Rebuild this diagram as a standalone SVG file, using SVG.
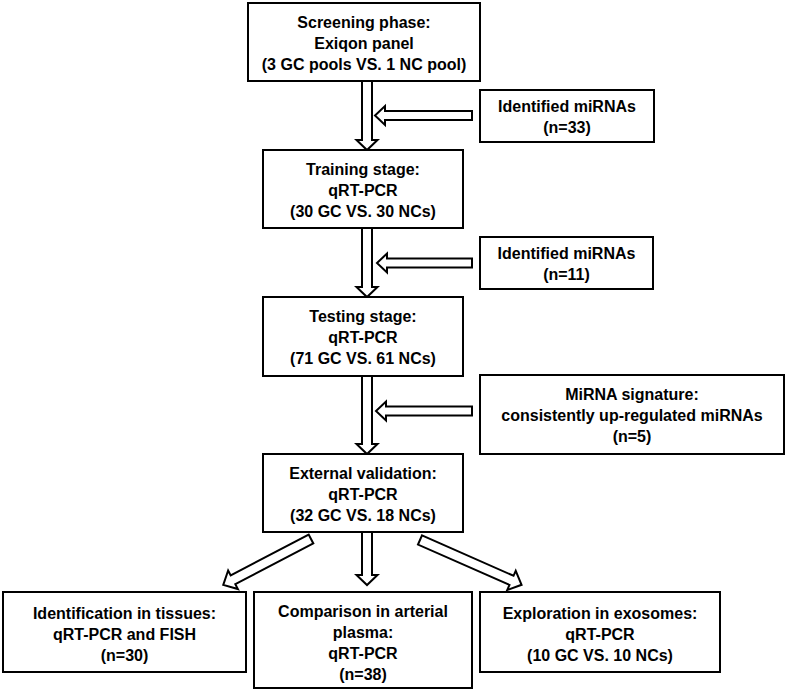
<svg xmlns="http://www.w3.org/2000/svg" width="787" height="691" viewBox="0 0 787 691">
<style>
.box{fill:#fff;stroke:#000;stroke-width:2}
.arr{fill:#fff;stroke:#000;stroke-width:2;stroke-linejoin:miter}
text{font-family:"Liberation Sans",Arial,sans-serif;font-weight:bold;font-size:16px;text-anchor:middle;fill:#000}
</style>
<defs>
<polygon id="a99" points="0,-5 88,-5 88,-10.5 99,0 88,10.5 88,5 0,5"/>
<polygon id="a111" points="0,-5 100,-5 100,-10.5 111,0 100,10.5 100,5 0,5"/>
</defs>
<rect width="787" height="691" fill="#fff"/>
<g id="connectors">
<polygon class="arr" points="362,81 372,81 372,140 377.5,140 367,150 356.5,140 362,140"/>
<polygon class="arr" points="472,111 385,111 385,106 375,115.5 385,125 385,120 472,120"/>
<polygon class="arr" points="362,228 372,228 372,287 377.5,287 367,297 356.5,287 362,287"/>
<polygon class="arr" points="472,258.5 387,258.5 387,253.5 377,263 387,272.5 387,267.5 472,267.5"/>
<polygon class="arr" points="362,376 372,376 372,444 377.5,444 367,454 356.5,444 362,444"/>
<polygon class="arr" points="472,406.5 386,406.5 386,401.5 376,411 386,420.5 386,415.5 472,415.5"/>
<polygon class="arr" points="362,532 372,532 372,575 377.5,575 367,585 356.5,575 362,575"/>
<use href="#a99" class="arr" transform="translate(311,539) rotate(152.4)"/>
<use href="#a111" class="arr" transform="translate(420,540) rotate(23.8)"/>
</g>
<g id="screening">
<rect class="box" x="248" y="3" width="232" height="78"/>
<text x="364" y="28">Screening phase:</text>
<text x="364" y="49">Exiqon panel</text>
<text x="364" y="70">(3 GC pools VS. 1 NC pool)</text>
</g>
<g id="identified1">
<rect class="box" x="480" y="90" width="174" height="52"/>
<text x="567" y="112">Identified miRNAs</text>
<text x="567" y="133">(n=33)</text>
</g>
<g id="training">
<rect class="box" x="263" y="150" width="200" height="78"/>
<text x="363" y="175">Training stage:</text>
<text x="363" y="196">qRT-PCR</text>
<text x="363" y="217">(30 GC VS. 30 NCs)</text>
</g>
<g id="identified2">
<rect class="box" x="480" y="237" width="173" height="52"/>
<text x="566.5" y="259">Identified miRNAs</text>
<text x="566.5" y="280">(n=11)</text>
</g>
<g id="testing">
<rect class="box" x="263" y="297" width="200" height="79"/>
<text x="363" y="322">Testing stage:</text>
<text x="363" y="343">qRT-PCR</text>
<text x="363" y="364">(71 GC VS. 61 NCs)</text>
</g>
<g id="signature">
<rect class="box" x="480" y="375" width="304" height="79"/>
<text x="632" y="400">MiRNA signature:</text>
<text x="632" y="421">consistently up-regulated miRNAs</text>
<text x="632" y="442">(n=5)</text>
</g>
<g id="external">
<rect class="box" x="263" y="454" width="200" height="78"/>
<text x="363" y="479">External validation:</text>
<text x="363" y="500">qRT-PCR</text>
<text x="363" y="521">(32 GC VS. 18 NCs)</text>
</g>
<g id="tissues">
<rect class="box" x="3" y="592" width="243" height="80"/>
<text x="124.5" y="619">Identification in tissues:</text>
<text x="124.5" y="640">qRT-PCR and FISH</text>
<text x="124.5" y="661">(n=30)</text>
</g>
<g id="plasma">
<rect class="box" x="254" y="592" width="218" height="96"/>
<text x="363" y="617">Comparison in arterial</text>
<text x="363" y="638">plasma:</text>
<text x="363" y="659">qRT-PCR</text>
<text x="363" y="680">(n=38)</text>
</g>
<g id="exosomes">
<rect class="box" x="480" y="592" width="240" height="80"/>
<text x="600" y="619">Exploration in exosomes:</text>
<text x="600" y="640">qRT-PCR</text>
<text x="600" y="661">(10 GC VS. 10 NCs)</text>
</g>
</svg>
